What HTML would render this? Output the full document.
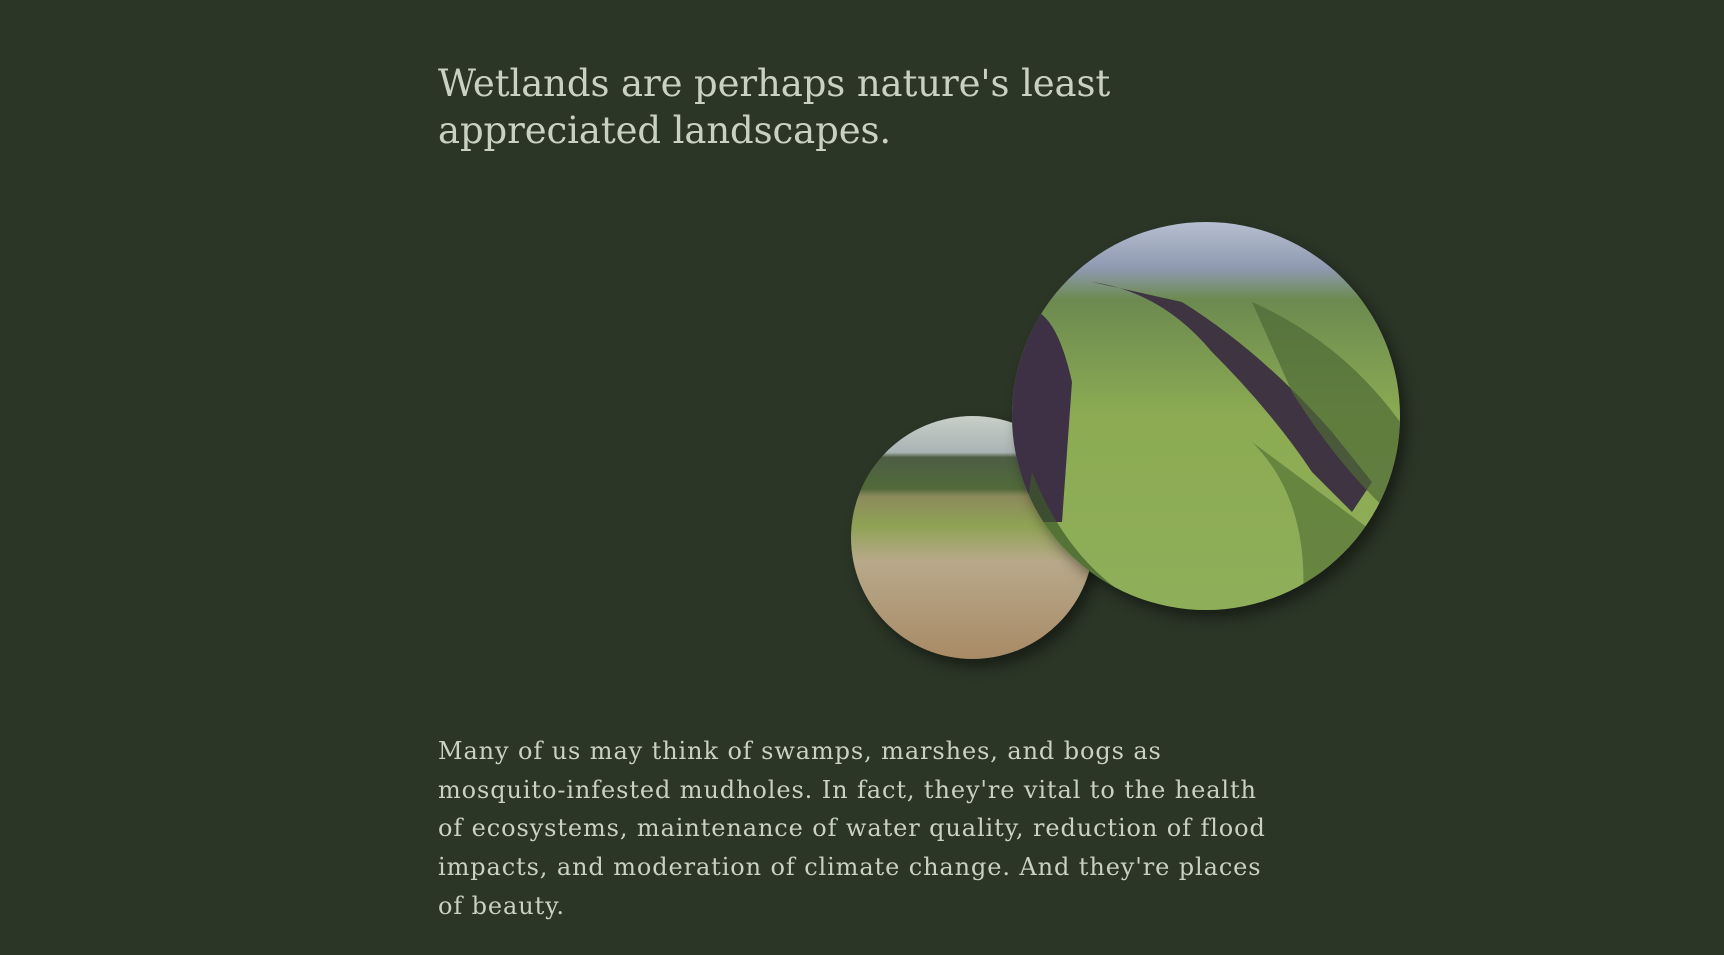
<!DOCTYPE html>
<html><head><meta charset="utf-8"><style>
html,body{margin:0;padding:0;width:1724px;height:955px;background:#2b3627;overflow:hidden}
.t{position:absolute;left:438px;color:#c9d1c2;font-family:"DejaVu Serif","Liberation Serif",serif;white-space:nowrap}
h1{margin:0;top:60px;font-size:37px;line-height:47px;font-weight:normal;letter-spacing:-0.1px}
p{margin:0;top:732px;font-size:24px;line-height:38.7px;letter-spacing:0.9px}
.c{position:absolute;border-radius:50%;overflow:hidden;box-shadow:6px 8px 14px rgba(0,0,0,.45)}
</style></head><body>
<h1 class="t">Wetlands are perhaps nature's least<br>appreciated landscapes.</h1>
<div class="c" style="left:851px;top:416px;width:243px;height:243px">
<svg width="243" height="243"><defs><linearGradient id="g1" x1="0" y1="0" x2="0" y2="1"><stop offset="0" stop-color="#c7cfc8"/><stop offset=".15" stop-color="#aab4b4"/><stop offset=".17" stop-color="#4d5e44"/><stop offset=".3" stop-color="#526a3a"/><stop offset=".33" stop-color="#8c8a5c"/><stop offset=".45" stop-color="#8ea254"/><stop offset=".6" stop-color="#b8a98a"/><stop offset="1" stop-color="#a88a66"/></linearGradient></defs><rect width="243" height="243" fill="url(#g1)"/></svg></div>
<div class="c" style="left:1012px;top:222px;width:388px;height:388px">
<svg width="388" height="388"><defs><linearGradient id="g2" x1="0" y1="0" x2="0" y2="1"><stop offset="0" stop-color="#b6bfd0"/><stop offset=".12" stop-color="#8f99b0"/><stop offset=".2" stop-color="#6c8a50"/><stop offset=".5" stop-color="#8cab52"/><stop offset="1" stop-color="#8fae5a"/></linearGradient></defs><rect width="388" height="388" fill="url(#g2)"/>
<path d="M0 90 Q40 70 60 160 L50 300 L0 300Z" fill="#3e3145"/>
<path d="M80 60 Q150 70 200 130 Q260 190 300 250 L340 290 L360 260 L320 210 Q250 130 170 80Z" fill="#3f3442"/>
<path d="M240 80 Q330 120 388 200 L388 300 Q330 250 280 170Z" fill="#4f6a36" opacity=".7"/>
<path d="M20 250 Q60 350 140 388 L0 388Z" fill="#3d5a2a" opacity=".7"/>
<path d="M240 220 Q300 280 290 388 L388 388 L388 330Z" fill="#4c6a30" opacity=".6"/></svg></div>
<p class="t">Many of us may think of swamps, marshes, and bogs as<br>mosquito-infested mudholes. In fact, they're vital to the health<br>of ecosystems, maintenance of water quality, reduction of flood<br>impacts, and moderation of climate change. And they're places<br>of beauty.</p>
</body></html>
